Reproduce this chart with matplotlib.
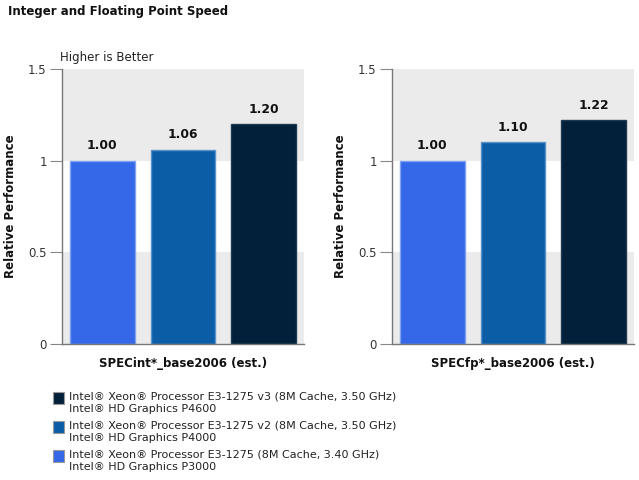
import matplotlib
matplotlib.use("Agg")
import matplotlib.pyplot as plt
from matplotlib.patches import Rectangle

plt.rcParams['font.family'] = ['DejaVu Sans']

processors = [
    "Intel® Xeon® Processor E3-1275 (8M Cache, 3.40 GHz)\nIntel® HD Graphics P3000",
    "Intel® Xeon® Processor E3-1275 v2 (8M Cache, 3.50 GHz)\nIntel® HD Graphics P4000",
    "Intel® Xeon® Processor E3-1275 v3 (8M Cache, 3.50 GHz)\nIntel® HD Graphics P4600",
]
specint_values = [1.00, 1.06, 1.20]
specfp_values = [1.00, 1.10, 1.22]
benchmarks = ["SPECint*_base2006 (est.)", "SPECfp*_base2006 (est.)"]
yticks = [0, 0.5, 1, 1.5]
yticklabels = ["0", "0.5", "1", "1.5"]

colors = ["#3468E8", "#0B5EA6", "#03203A"]
edges = ["#7FA0F0", "#5A92CC", "#1F3A55"]

fig = plt.figure(figsize=(6.39, 4.8), dpi=100)
fig.text(8/639, 1-12/480, "Integer and Floating Point Speed", fontsize=8.5, fontweight='bold',
         va='center', ha='left', color='#111111')

def draw(ax, values, label):
    ax.set_xlim(-0.5, 2.5)
    ax.set_ylim(0, 1.5)
    ax.axhspan(1.0, 1.5, color='#EBEBEB', zorder=0, lw=0)
    ax.axhspan(0.0, 0.5, color='#EBEBEB', zorder=0, lw=0)
    xs = list(range(len(values)))
    ax.bar(xs, values, width=0.8, color=colors, edgecolor=edges, linewidth=1, zorder=2)
    for x, v in zip(xs, values):
        ax.text(x, v + 0.045, f"{v:.2f}", ha='center', va='bottom', fontsize=8.8,
                fontweight='bold', color='#111111')
    for s in ['top', 'right']:
        ax.spines[s].set_visible(False)
    for s in ['left', 'bottom']:
        ax.spines[s].set_color('#777777')
        ax.spines[s].set_linewidth(1)
    ax.set_yticks(yticks)
    ax.set_yticklabels(yticklabels)
    ax.tick_params(axis='y', length=9, color='#888888', labelsize=8.5, labelcolor='#333333', pad=2)
    ax.set_xticks([])
    ax.set_xlabel(label, fontsize=8.5, fontweight='bold', color='#111111', labelpad=9)
    ax.set_ylabel("Relative Performance", fontsize=8.5, fontweight='bold', color='#111111', labelpad=8)

ax1 = fig.add_axes([62/639, 1-344/480, 242/639, 275/480])
draw(ax1, specint_values, benchmarks[0])
ax1.text(-0.01, 1.018, "Higher is Better", transform=ax1.transAxes, fontsize=8.5,
         color='#222222', ha='left', va='bottom')
ax2 = fig.add_axes([392/639, 1-344/480, 242/639, 275/480])
draw(ax2, specfp_values, benchmarks[1])

# legend (reverse order: newest on top)
ys = [398, 427, 456]
for i, idx in enumerate([2, 1, 0]):
    y = ys[i]
    fig.patches.append(Rectangle((53/639, 1-(y+6)/480), 11/639, 12/480, transform=fig.transFigure,
                                 facecolor=colors[idx], edgecolor='#999999', lw=0.8))
    fig.text(69/639, 1-(y+5)/480, processors[idx], fontsize=8, color='#222222',
             ha='left', va='center', linespacing=1.3)

fig.savefig("out.png", dpi=100)
